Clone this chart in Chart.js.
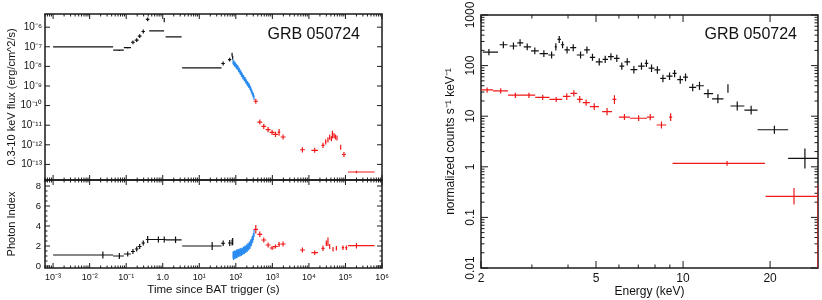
<!DOCTYPE html>
<html>
<head>
<meta charset="utf-8">
<script src="https://cdn.jsdelivr.net/npm/chart.js@4.4.0/dist/chart.umd.min.js"></script>
<style>
  body { margin: 0; background: #fff; }
  #wrap { position: relative; width: 822px; height: 300px; overflow: hidden; }
  canvas { position: absolute; }
</style>
</head>
<body>
<div id="wrap">
  <canvas id="flux" width="400" height="182" style="left:0;top:0"></canvas>
  <canvas id="index" width="400" height="122" style="left:0;top:178px"></canvas>
  <canvas id="spec" width="422" height="300" style="left:400px;top:0"></canvas>
</div>
<script>
// rows: [x, xLo, xHi, y, yLo, yHi]

// light curve, 0.3-10 keV flux
const batFlux = [
  [0.023, 0.001, 0.044, 1.0e-7, 0.94e-7, 1.06e-7],
  [0.065, 0.044, 0.086, 6.7e-8, 6.1e-8, 7.3e-8],
  [0.11, 0.086, 0.135, 9.0e-8, 8.2e-8, 9.8e-8],
  [0.153, 0.135, 0.173, 1.7e-7, 1.36e-7, 2.1e-7],
  [0.194, 0.172, 0.218, 2.2e-7, 1.76e-7, 2.75e-7],
  [0.234, 0.208, 0.262, 3.5e-7, 2.8e-7, 4.4e-7],
  [0.293, 0.262, 0.325, 6.0e-7, 4.8e-7, 7.5e-7],
  [0.387, 0.345, 0.43, 2.5e-6, 2.0e-6, 3.1e-6],
  [0.76, 0.427, 1.09, 6.5e-7, 6.0e-7, 7.0e-7],
  [1.10, 1.10, 1.10, 2.3e-6, 1.8e-6, 2.9e-6],
  [2.24, 1.20, 3.28, 3.2e-7, 2.95e-7, 3.45e-7]
];
const xrtFlux = [
  [22.5, 3.4, 40.6, 8.3e-9, 7.8e-9, 8.8e-9],
  [45, 40, 50, 1.4e-8, 1.12e-8, 1.75e-8],
  [68, 61, 75, 2.2e-8, 1.76e-8, 2.75e-8],
  [79, 76, 82, 4.0e-8, 3.2e-8, 5.0e-8],
  [82, 79, 85, 2.8e-8, 2.24e-8, 3.5e-8]
];
const wtFlux = [
  [84, 82.5, 85.5, 1.70e-8, 1.29e-8, 2.24e-8],
  [87, 85.5, 88.5, 1.52e-8, 1.15e-8, 2.0e-8],
  [90, 88.5, 91.5, 1.48e-8, 1.12e-8, 1.95e-8],
  [93, 91.5, 94.5, 1.28e-8, 0.97e-8, 1.69e-8],
  [97, 95, 99, 1.22e-8, 0.92e-8, 1.61e-8],
  [101, 99, 103, 1.06e-8, 0.80e-8, 1.40e-8],
  [105, 103, 107, 1.0e-8, 0.76e-8, 1.32e-8],
  [109, 107, 111, 8.8e-9, 6.7e-9, 1.16e-8],
  [114, 111.5, 116.5, 8.3e-9, 6.3e-9, 1.10e-8],
  [119, 116.5, 121.5, 6.9e-9, 5.2e-9, 9.1e-9],
  [124, 121.5, 126.5, 6.5e-9, 4.9e-9, 8.6e-9],
  [130, 127, 133, 5.3e-9, 4.0e-9, 7.0e-9],
  [136, 133, 139, 4.8e-9, 3.6e-9, 6.3e-9],
  [142, 139, 145, 4.0e-9, 3.0e-9, 5.3e-9],
  [149, 145.5, 152.5, 3.6e-9, 2.7e-9, 4.75e-9],
  [156, 152.5, 159.5, 2.95e-9, 2.23e-9, 3.9e-9],
  [163, 159.5, 166.5, 2.75e-9, 2.08e-9, 3.6e-9],
  [171, 167, 175, 2.3e-9, 1.74e-9, 3.0e-9],
  [179, 175, 183, 2.15e-9, 1.63e-9, 2.84e-9],
  [187, 183, 191, 1.78e-9, 1.35e-9, 2.35e-9],
  [196, 191.5, 200.5, 1.62e-9, 1.23e-9, 2.14e-9],
  [205, 200.5, 209.5, 1.35e-9, 1.02e-9, 1.78e-9],
  [214, 209.5, 218.5, 1.26e-9, 0.95e-9, 1.66e-9],
  [224, 219, 229, 1.07e-9, 0.81e-9, 1.41e-9],
  [234, 229, 239, 1.0e-9, 0.76e-9, 1.32e-9],
  [244, 239, 249, 8.3e-10, 6.3e-10, 1.1e-9],
  [255, 249.5, 260.5, 7.1e-10, 5.4e-10, 9.4e-10],
  [266, 260.5, 271.5, 5.6e-10, 4.2e-10, 7.4e-10],
  [278, 272, 284, 4.8e-10, 3.6e-10, 6.3e-10],
  [290, 284, 296, 3.8e-10, 2.9e-10, 5.0e-10],
  [302, 296, 308, 3.3e-10, 2.5e-10, 4.4e-10],
  [315, 308.5, 321.5, 2.55e-10, 1.93e-10, 3.4e-10]
];
const pcFlux = [
  [352, 305, 405, 1.66e-10, 1.23e-10, 2.24e-10],
  [453, 390, 525, 1.45e-11, 1.07e-11, 1.96e-11],
  [582, 500, 680, 8.7e-12, 6.4e-12, 1.17e-11],
  [763, 655, 890, 5.9e-12, 4.4e-12, 8.0e-12],
  [982, 840, 1150, 4.3e-12, 3.2e-12, 5.8e-12],
  [1216, 1040, 1420, 3.4e-12, 2.5e-12, 4.6e-12],
  [1525, 1400, 1650, 4.4e-12, 2.9e-12, 6.4e-12],
  [1961, 1680, 2290, 2.5e-12, 1.85e-12, 3.4e-12],
  [6640, 5700, 7800, 5.6e-13, 4.1e-13, 7.6e-13],
  [14400, 11700, 17700, 5.2e-13, 3.9e-13, 7.0e-13],
  [24300, 22000, 26800, 9.3e-13, 6.9e-13, 1.26e-12],
  [28800, 27400, 30200, 1.4e-12, 1.05e-12, 1.9e-12],
  [33200, 31800, 34600, 1.8e-12, 1.3e-12, 2.45e-12],
  [37000, 35800, 38200, 2.5e-12, 1.8e-12, 3.4e-12],
  [41200, 40000, 42400, 2.0e-12, 1.5e-12, 2.7e-12],
  [43900, 43100, 44700, 3.4e-12, 2.1e-12, 5.2e-12],
  [48500, 47300, 49700, 3.0e-12, 2.2e-12, 4.0e-12],
  [53000, 51600, 54400, 2.5e-12, 1.85e-12, 3.4e-12],
  [58600, 56600, 60600, 2.2e-12, 1.65e-12, 3.0e-12],
  [74000, 74000, 74000, 7.6e-13, 5.6e-13, 1.0e-12],
  [91000, 80000, 103000, 3.2e-13, 2.4e-13, 4.3e-13],
  [200000, 117000, 628000, 4.1e-14, 3.5e-14, 4.8e-14]
];

// light curve, photon index
const batIndex = [
  [0.023, 0.001, 0.044, 1.1, 0.75, 1.45],
  [0.065, 0.044, 0.086, 1.0, 0.7, 1.3],
  [0.11, 0.086, 0.135, 1.2, 0.95, 1.45],
  [0.153, 0.135, 0.173, 1.45, 1.2, 1.7],
  [0.194, 0.172, 0.218, 1.7, 1.45, 1.95],
  [0.234, 0.208, 0.262, 1.95, 1.7, 2.2],
  [0.293, 0.262, 0.325, 2.3, 2.05, 2.55],
  [0.387, 0.345, 0.43, 2.65, 2.3, 3.0],
  [0.76, 0.427, 1.09, 2.65, 2.35, 2.95],
  [1.10, 1.09, 1.20, 2.65, 2.35, 2.95],
  [2.24, 1.20, 3.28, 2.62, 2.3, 2.95]
];
const xrtIndex = [
  [22.5, 3.4, 40.6, 2.0, 1.6, 2.4],
  [45, 40, 50, 2.27, 2.0, 2.55],
  [68, 61, 75, 2.3, 2.0, 2.6],
  [79, 76, 82, 2.35, 2.05, 2.65],
  [82, 79, 85, 2.45, 2.1, 2.8]
];
const wtIndex = [
  [84, 82.5, 85.5, 1.1, 0.75, 1.45],
  [87, 85.5, 88.5, 0.95, 0.6, 1.3],
  [90, 88.5, 91.5, 1.2, 0.85, 1.55],
  [93, 91.5, 94.5, 1.05, 0.7, 1.4],
  [97, 95, 99, 1.2, 0.85, 1.55],
  [101, 99, 103, 1.1, 0.75, 1.45],
  [105, 103, 107, 1.3, 0.95, 1.65],
  [109, 107, 111, 1.15, 0.8, 1.5],
  [114, 111.5, 116.5, 1.35, 1.0, 1.7],
  [119, 116.5, 121.5, 1.25, 0.9, 1.6],
  [124, 121.5, 126.5, 1.4, 1.05, 1.75],
  [130, 127, 133, 1.3, 0.95, 1.65],
  [136, 133, 139, 1.45, 1.1, 1.8],
  [142, 139, 145, 1.35, 1.0, 1.7],
  [149, 145.5, 152.5, 1.5, 1.15, 1.85],
  [156, 152.5, 159.5, 1.45, 1.1, 1.8],
  [163, 159.5, 166.5, 1.6, 1.25, 1.95],
  [171, 167, 175, 1.55, 1.2, 1.9],
  [179, 175, 183, 1.7, 1.35, 2.05],
  [187, 183, 191, 1.65, 1.3, 2.0],
  [196, 191.5, 200.5, 1.8, 1.45, 2.15],
  [205, 200.5, 209.5, 1.75, 1.4, 2.1],
  [214, 209.5, 218.5, 1.95, 1.6, 2.3],
  [224, 219, 229, 1.9, 1.55, 2.25],
  [234, 229, 239, 2.1, 1.75, 2.45],
  [244, 239, 249, 2.05, 1.7, 2.4],
  [255, 249.5, 260.5, 2.3, 1.95, 2.65],
  [266, 260.5, 271.5, 2.35, 2.0, 2.7],
  [278, 272, 284, 2.6, 2.25, 2.95],
  [290, 284, 296, 2.7, 2.35, 3.05],
  [302, 296, 308, 2.95, 2.6, 3.3],
  [315, 308.5, 321.5, 3.25, 2.9, 3.6]
];
const pcIndex = [
  [352, 305, 405, 3.67, 3.25, 4.1],
  [453, 390, 525, 3.17, 2.9, 3.45],
  [582, 500, 680, 2.6, 2.35, 2.85],
  [763, 655, 890, 2.1, 1.85, 2.35],
  [982, 840, 1150, 1.8, 1.6, 2.0],
  [1216, 1040, 1420, 1.95, 1.75, 2.15],
  [1525, 1400, 1650, 2.15, 1.9, 2.4],
  [1961, 1680, 2290, 2.2, 1.95, 2.45],
  [6640, 5700, 7800, 1.6, 1.35, 1.85],
  [14400, 11700, 17700, 1.33, 1.1, 1.55],
  [24300, 22000, 26800, 1.77, 1.5, 2.05],
  [30000, 28600, 31400, 2.27, 2.0, 2.55],
  [33200, 31800, 34600, 2.43, 2.0, 2.85],
  [37000, 35800, 38200, 1.93, 1.7, 2.2],
  [45700, 43800, 47600, 1.67, 1.45, 1.9],
  [56500, 54000, 59000, 1.77, 1.55, 2.0],
  [85400, 79000, 92000, 1.83, 1.6, 2.05],
  [106000, 99000, 113000, 1.83, 1.6, 2.05],
  [200000, 117000, 628000, 2.03, 1.75, 2.3]
];

// spectrum: [E, ELo, EHi, counts, countsLo, countsHi]
const specBlack = [
  [2.13, 2.03, 2.29, 185, 160, 212],
  [2.39, 2.32, 2.47, 258, 220, 300],
  [2.59, 2.51, 2.67, 244, 208, 285],
  [2.73, 2.67, 2.80, 282, 240, 330],
  [2.89, 2.81, 2.98, 234, 200, 272],
  [3.07, 2.98, 3.17, 196, 168, 228],
  [3.30, 3.19, 3.41, 173, 148, 202],
  [3.51, 3.42, 3.60, 162, 138, 190],
  [3.63, 3.60, 3.66, 234, 198, 275],
  [3.73, 3.68, 3.78, 330, 280, 385],
  [3.83, 3.78, 3.88, 258, 220, 300],
  [3.97, 3.89, 4.06, 204, 174, 238],
  [4.17, 4.07, 4.27, 226, 193, 264],
  [4.42, 4.29, 4.55, 162, 138, 190],
  [4.65, 4.55, 4.76, 204, 174, 238],
  [4.86, 4.76, 4.97, 146, 124, 171],
  [5.13, 4.99, 5.27, 119, 101, 140],
  [5.38, 5.27, 5.50, 133, 113, 156],
  [5.63, 5.50, 5.76, 150, 127, 176],
  [5.90, 5.77, 6.03, 139, 118, 163],
  [6.14, 6.03, 6.26, 98, 83, 115],
  [6.41, 6.27, 6.56, 119, 101, 140],
  [6.76, 6.58, 6.95, 83, 70, 98],
  [7.18, 6.99, 7.37, 98, 83, 115],
  [7.47, 7.37, 7.58, 111, 94, 130],
  [7.78, 7.60, 7.96, 89, 75, 105],
  [8.15, 7.96, 8.34, 82, 69, 97],
  [8.52, 8.34, 8.72, 56, 47, 66],
  [8.98, 8.76, 9.20, 62, 52, 73],
  [9.35, 9.20, 9.50, 70, 59, 82],
  [9.78, 9.55, 10.0, 53, 44, 63],
  [10.2, 10.0, 10.4, 59, 49, 70],
  [10.8, 10.5, 11.1, 37, 31, 44],
  [11.4, 11.1, 11.8, 40, 33, 48],
  [12.2, 11.8, 12.7, 28, 23, 34],
  [13.2, 12.6, 13.8, 22, 18, 27],
  [14.3, 14.3, 14.3, 35.6, 29, 43],
  [15.4, 14.6, 16.3, 15.9, 13, 19.5],
  [17.2, 16.3, 18.1, 13.2, 10.8, 16],
  [20.7, 18.1, 23.1, 5.4, 4.5, 6.5],
  [26.4, 23.1, 29.3, 1.47, 0.93, 2.3]
];
const specRed = [
  [2.10, 2.00, 2.20, 33, 29, 37],
  [2.34, 2.20, 2.48, 31.6, 28, 35.5],
  [2.63, 2.48, 2.78, 26, 23, 29],
  [2.93, 2.78, 3.08, 26, 23, 29],
  [3.27, 3.08, 3.45, 23.5, 21, 26.5],
  [3.64, 3.45, 3.82, 21.5, 19, 24],
  [3.96, 3.84, 4.08, 24.6, 21, 28.5],
  [4.19, 4.08, 4.30, 28.3, 24.5, 32.5],
  [4.39, 4.30, 4.50, 21.5, 18.5, 25],
  [4.62, 4.50, 4.76, 18.5, 16, 21.5],
  [4.93, 4.76, 5.12, 15.5, 13.3, 18],
  [5.46, 5.25, 5.68, 12.3, 10.5, 14.5],
  [5.79, 5.70, 5.88, 21.5, 17.5, 26],
  [6.27, 6.00, 6.55, 9.6, 8.4, 11],
  [7.02, 6.55, 7.50, 9.1, 8.0, 10.4],
  [7.70, 7.50, 7.95, 9.6, 8.3, 11],
  [8.42, 8.10, 8.75, 6.7, 5.7, 7.9],
  [9.06, 8.95, 9.17, 9.6, 8.0, 11.5],
  [14.2, 9.2, 19.2, 1.17, 1.05, 1.3],
  [24.2, 19.3, 29.3, 0.26, 0.18, 0.38],
  [29.3, 29.3, 29.3, 0.05, 0.001, 0.44]
];

// axis ticks and labels
const timeTicks = [1e-3, 1e-2, 1e-1, 1, 10, 100, 1e3, 1e4, 1e5, 1e6];
const timeLabels = ['10⁻³', '10⁻²', '10⁻¹', '1.0', '10¹', '10²', '10³', '10⁴', '10⁵', '10⁶'];
const fluxTicks = [1e-13, 1e-12, 1e-11, 1e-10, 1e-9, 1e-8, 1e-7, 1e-6];
const fluxLabels = ['10⁻¹³', '10⁻¹²', '10⁻¹¹', '10⁻¹⁰', '10⁻⁹', '10⁻⁸', '10⁻⁷', '10⁻⁶'];
const indexTicks = [0, 2, 4, 6, 8];
const indexMinor = [0.5, 1, 1.5, 2.5, 3, 3.5, 4.5, 5, 5.5, 6.5, 7, 7.5, 8.5];
const energyTicks = [2, 5, 10, 20];
const energyLabels = ['2', '5', '10', '20'];
const energyMinor = [3, 4, 6, 7, 8, 9];
const countTicks = [0.01, 0.1, 1, 10, 100, 1000];
const countLabels = ['0.01', '0.1', '1', '10', '100', '1000'];

const BLACK = '#111';
const BLUE = '#2a8cf0';
const RED = '#f01a1a';
const FONT = '"Liberation Sans", Arial, Helvetica, sans-serif';

Chart.defaults.font.family = FONT;
Chart.defaults.color = '#111';

// every row becomes a horizontal and a vertical bar of a cross
function crosses(rows, color, width) {
  const pts = [];
  rows.forEach(([x, xLo, xHi, y, yLo, yHi]) => {
    pts.push({x: xLo, y: y}, {x: xHi, y: y}, {x: x, y: null});
    pts.push({x: x, y: yLo}, {x: x, y: yHi}, {x: x, y: null});
  });
  return {
    data: pts,
    showLine: true,
    spanGaps: false,
    borderColor: color,
    borderWidth: width,
    pointRadius: 0,
    pointHoverRadius: 0
  };
}

// 2..9 x 10^n between min and max
function logMinor(min, max) {
  const out = [];
  for (let d = Math.floor(Math.log10(min)); d <= Math.ceil(Math.log10(max)); d++) {
    for (let m = 2; m < 10; m++) {
      const v = m * Math.pow(10, d);
      if (v >= min && v <= max) out.push(v);
    }
  }
  return out;
}

// fixed axis size, and no extra room for labels at the ends
function fixSize(w, h) {
  return s => {
    if (w !== null) s.width = w;
    if (h !== null) s.height = h;
    s.paddingTop = 0; s.paddingBottom = 0;
    s.paddingLeft = 0; s.paddingRight = 0;
  };
}

// frame, inward ticks, extra texts
const decor = {
  id: 'decor',
  beforeDatasetsDraw(chart, args, o) {
    const {ctx, chartArea: a} = chart;
    ctx.save();
    ctx.strokeStyle = '#1a1a1a';
    ctx.lineWidth = 1;
    ctx.beginPath();
    o.marks.forEach(m => {
      const s = chart.scales[m.id];
      const put = (v, len) => {
        const p = s.getPixelForValue(v);
        if (s.isHorizontal()) {
          if (p < a.left - 0.5 || p > a.right + 0.5) return;
          ctx.moveTo(p, a.top); ctx.lineTo(p, a.top + len);
          ctx.moveTo(p, a.bottom); ctx.lineTo(p, a.bottom - len);
        } else {
          if (p < a.top - 0.5 || p > a.bottom + 0.5) return;
          ctx.moveTo(a.left, p); ctx.lineTo(a.left + len, p);
          ctx.moveTo(a.right, p); ctx.lineTo(a.right - len, p);
        }
      };
      m.major.forEach(v => put(v, m.len));
      (m.minor || []).forEach(v => put(v, m.minorLen));
    });
    ctx.stroke();
    ctx.lineWidth = o.frame;
    ctx.strokeRect(a.left, a.top, a.right - a.left, a.bottom - a.top);
    ctx.restore();
  },
  afterDraw(chart, args, o) {
    const {ctx, chartArea: a} = chart;
    ctx.save();
    ctx.fillStyle = '#111';
    if (o.label) {
      ctx.font = '16px ' + FONT;
      ctx.textAlign = 'right';
      ctx.textBaseline = 'middle';
      ctx.fillText(o.label, a.right - o.labelDx, a.top + o.labelDy);
    }
    if (o.yLabels) {
      const s = chart.scales.y;
      ctx.font = '12px ' + FONT;
      ctx.textAlign = 'center';
      ctx.textBaseline = 'middle';
      o.yLabels.values.forEach((v, i) => {
        ctx.save();
        ctx.translate(o.yLabels.x, s.getPixelForValue(v));
        ctx.rotate(-Math.PI / 2);
        ctx.fillText(o.yLabels.text[i], 0, 0);
        ctx.restore();
      });
    }
    ctx.restore();
  }
};

const plain = {
  grid: {display: false, drawTicks: false},
  border: {display: false}
};

// left top: flux
new Chart(document.getElementById('flux'), {
  type: 'scatter',
  data: {
    datasets: [
      crosses(batFlux, BLACK, 1.2),
      crosses(xrtFlux, BLACK, 1.2),
      crosses(wtFlux, BLUE, 1.2),
      crosses(pcFlux, RED, 1.2)
    ]
  },
  options: {
    responsive: false,
    animation: false,
    events: [],
    layout: {padding: {top: 14, right: 18, left: 0, bottom: 2}},
    plugins: {
      legend: {display: false},
      tooltip: {enabled: false},
      decor: {
        frame: 1.5,
        label: 'GRB 050724', labelDx: 22, labelDy: 21,
        marks: [
          {id: 'x', major: timeTicks, minor: logMinor(6e-4, 1e6), len: 5, minorLen: 2.5},
          {id: 'y', major: fluxTicks, len: 5}
        ]
      }
    },
    scales: {
      x: {type: 'logarithmic', min: 6e-4, max: 1e6, display: false},
      y: {
        type: 'logarithmic', min: 1.6e-14, max: 4.7e-6,
        afterFit: fixSize(45, null),
        afterBuildTicks: s => { s.ticks = fluxTicks.map(v => ({value: v})); },
        ticks: {autoSkip: false, padding: 3, font: {size: 10}, callback: (v, i) => fluxLabels[i]},
        title: {display: true, text: '0.3-10 keV flux (erg/cm^2/s)', font: {size: 11}, padding: {top: 5, bottom: 0}},
        ...plain
      }
    }
  },
  plugins: [decor]
});

// left bottom: photon index
new Chart(document.getElementById('index'), {
  type: 'scatter',
  data: {
    datasets: [
      crosses(batIndex, BLACK, 1.2),
      crosses(xrtIndex, BLACK, 1.2),
      crosses(wtIndex, BLUE, 1.2),
      crosses(pcIndex, RED, 1.2)
    ]
  },
  options: {
    responsive: false,
    animation: false,
    events: [],
    layout: {padding: {top: 2, right: 18, left: 0, bottom: 0}},
    plugins: {
      legend: {display: false},
      tooltip: {enabled: false},
      decor: {
        frame: 1.5,
        marks: [
          {id: 'x', major: timeTicks, minor: logMinor(6e-4, 1e6), len: 5, minorLen: 2.5},
          {id: 'y', major: indexTicks, minor: indexMinor, len: 5, minorLen: 2.5}
        ]
      }
    },
    scales: {
      x: {
        type: 'logarithmic', min: 6e-4, max: 1e6,
        afterFit: fixSize(null, 32),
        afterBuildTicks: s => { s.ticks = timeTicks.map(v => ({value: v})); },
        ticks: {autoSkip: false, maxRotation: 0, padding: 4, font: {size: 9}, callback: (v, i) => timeLabels[i]},
        title: {display: true, text: 'Time since BAT trigger (s)', font: {size: 11.5}, padding: {top: 0, bottom: 3}},
        ...plain
      },
      y: {
        type: 'linear', min: -0.2, max: 8.6,
        afterFit: fixSize(45, null),
        afterBuildTicks: s => { s.ticks = indexTicks.map(v => ({value: v})); },
        ticks: {autoSkip: false, padding: 4, font: {size: 9.5}, callback: v => String(v)},
        title: {display: true, text: 'Photon Index', font: {size: 11}, padding: {top: 5, bottom: 0}},
        ...plain
      }
    }
  },
  plugins: [decor]
});

// right: spectrum
new Chart(document.getElementById('spec'), {
  type: 'scatter',
  data: {
    datasets: [
      crosses(specBlack, BLACK, 1.2),
      crosses(specRed, RED, 1.2)
    ]
  },
  options: {
    responsive: false,
    animation: false,
    events: [],
    layout: {padding: {top: 15, right: 4, left: 0, bottom: 0}},
    plugins: {
      legend: {display: false},
      tooltip: {enabled: false},
      decor: {
        frame: 1.5,
        label: 'GRB 050724', labelDx: 21, labelDy: 20,
        yLabels: {values: countTicks, text: countLabels, x: 71},
        marks: [
          {id: 'x', major: energyTicks, minor: energyMinor, len: 7, minorLen: 3.5},
          {id: 'y', major: countTicks, minor: logMinor(0.01, 1000), len: 7, minorLen: 3.5}
        ]
      }
    },
    scales: {
      x: {
        type: 'logarithmic', min: 2, max: 29.3,
        afterFit: fixSize(null, 32),
        afterBuildTicks: s => { s.ticks = energyTicks.map(v => ({value: v})); },
        ticks: {autoSkip: false, maxRotation: 0, padding: 3, font: {size: 12}, callback: (v, i) => energyLabels[i]},
        title: {display: true, text: 'Energy (keV)', font: {size: 12}, padding: {top: 0, bottom: 1}},
        ...plain
      },
      y: {
        type: 'logarithmic', min: 0.01, max: 1000,
        afterFit: fixSize(81, null),
        ticks: {display: false},
        title: {display: true, text: 'normalized counts s⁻¹ keV⁻¹', font: {size: 12}, padding: {top: 43, bottom: 0}},
        ...plain
      }
    }
  },
  plugins: [decor]
});
</script>
</body>
</html>
